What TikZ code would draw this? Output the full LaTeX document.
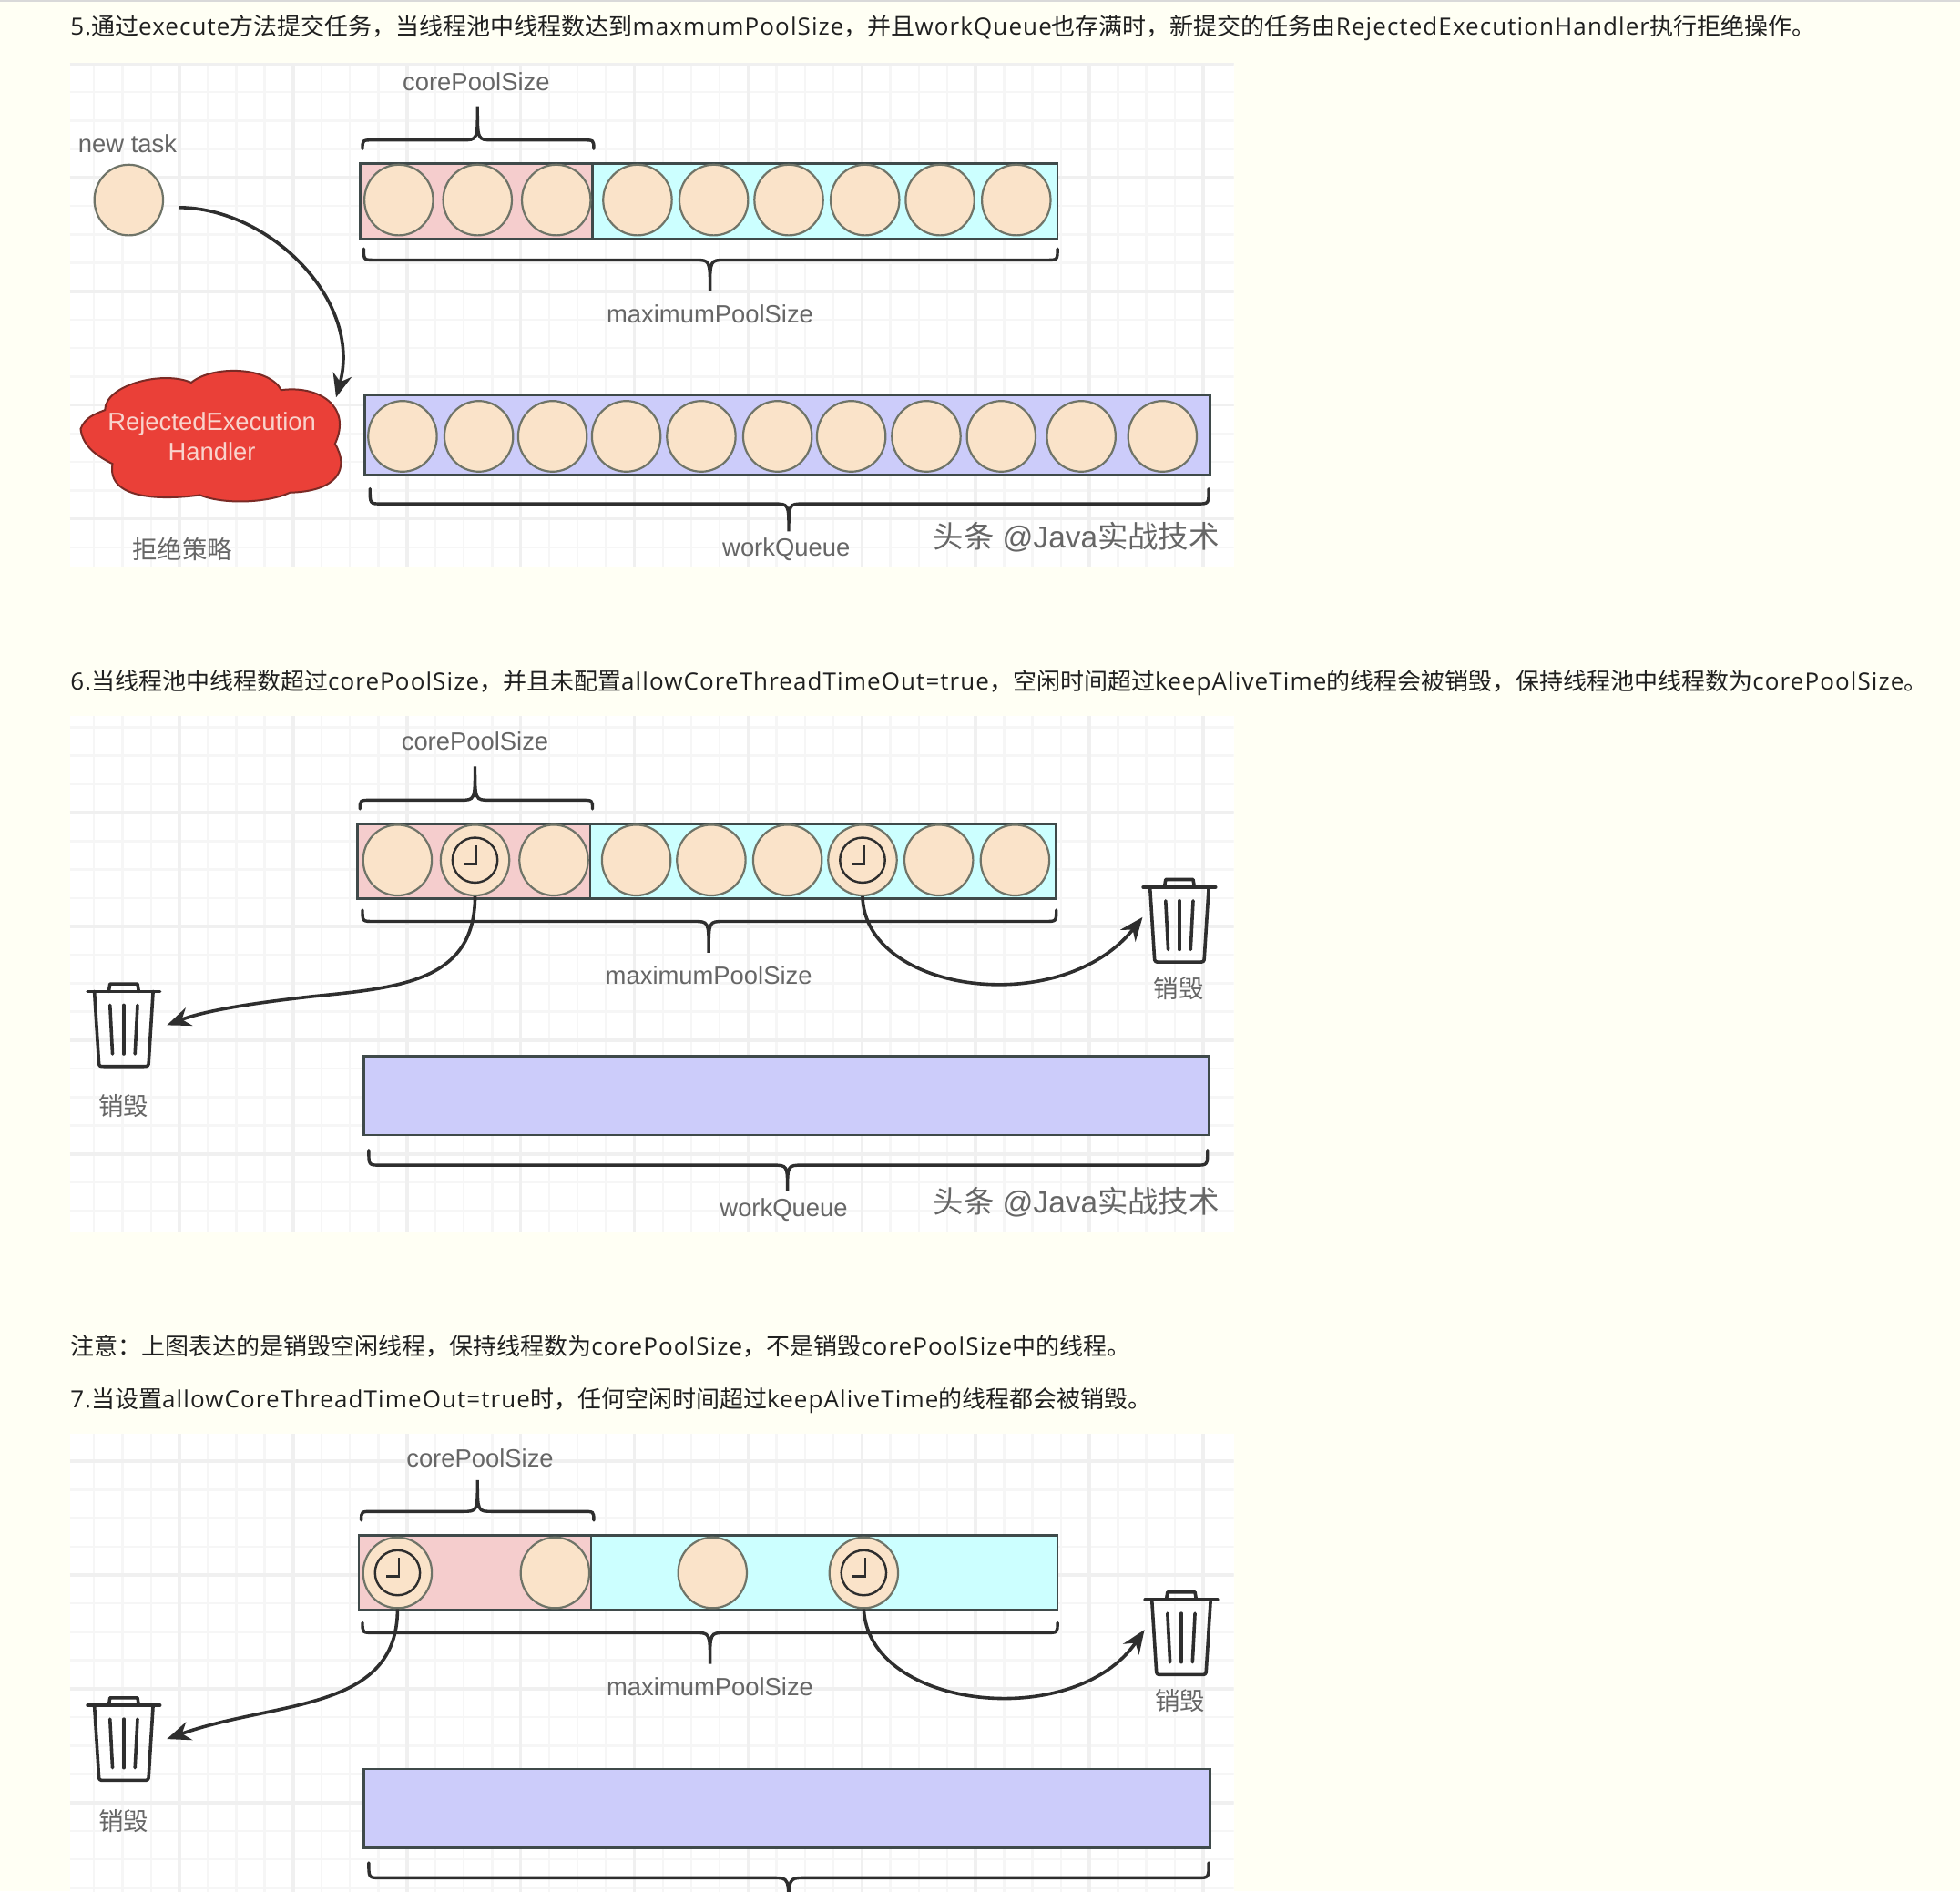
\documentclass[tikz,border=0pt]{standalone}
\usepackage{fontspec}
\setmainfont{Liberation Sans}
\newfontfamily\cjk{Noto Sans CJK SC}
\newfontfamily\headlat[LetterSpace=4.2]{Open Sans}
\usetikzlibrary{shapes.geometric,arrows.meta}
\newcommand\zh[1]{{\cjk #1}}
\definecolor{page}{HTML}{FFFFF4}
\definecolor{gridmin}{HTML}{F6F6F6}
\definecolor{gridmaj}{HTML}{F0F0F0}
\definecolor{corefill}{HTML}{F5CDCD}
\definecolor{maxfill}{HTML}{CCFFFF}
\definecolor{queuefill}{HTML}{CCCCFA}
\definecolor{peach}{HTML}{FAE3C9}
\definecolor{peachline}{HTML}{6F7468}
\definecolor{barline}{HTML}{3F4A4A}
\definecolor{labelgray}{HTML}{666666}
\definecolor{cloudred}{HTML}{EA4038}
\definecolor{cloudline}{HTML}{7A2A25}
\definecolor{cloudtext}{HTML}{F9D3CC}
\definecolor{dark}{HTML}{2E2E2E}
\tikzset{
  x=0.6862pt,y=-0.6862pt,
  headline/.style={anchor=west,inner sep=0pt,text=black!88,font=\fontsize{13}{15}\selectfont\headlat},
  lab/.style={inner sep=0pt,text=labelgray,font=\fontsize{13.7}{16.5}\selectfont},
  mark text/.style={inner sep=0pt,text=labelgray,font=\fontsize{16.7}{20}\selectfont},
  worker/.style={ellipse,draw=peachline,fill=peach,line width=1.1pt,minimum width=37.7pt,minimum height=38.8pt,inner sep=0pt},
  barbox/.style={draw=barline,line width=1.3pt},
  brace line/.style={draw=dark,line width=1.7pt,line cap=round},
  conn/.style={draw=dark,line width=1.8pt,-{Stealth[length=13pt,width=10.5pt]}},
  gridminor/.style={draw=gridmin,line width=1.2pt},
  gridmajor/.style={draw=gridmaj,line width=1.8pt},
  binline/.style={draw=dark,line width=1.8pt,line cap=round,line join=round},
  binbox/.style={minimum width=40pt,minimum height=46pt,inner sep=0pt},
}
% grid panel: top, bottom, first major y
\newcommand\panelgrid[3]{%
  \fill[white] (56,#1) rectangle (987,#2);
  \begin{scope}
    \clip (56,#1) rectangle (987,#2);
    \foreach \k in {0,...,40} {\draw[gridminor] ({52.5+22.75*\k},#1) -- ({52.5+22.75*\k},#2);}
    \foreach \k in {-20,...,20} {\draw[gridminor] (56,{#3+22.75*\k}) -- (987,{#3+22.75*\k});}
    \foreach \k in {0,...,10} {\draw[gridmajor] ({52.5+91*\k},#1) -- ({52.5+91*\k},#2);}
    \foreach \k in {-5,...,5} {\draw[gridmajor] (56,{#3+91*\k}) -- (987,{#3+91*\k});}
  \end{scope}}
% brace: x1,x2,line y,end y,tip x,tip y
\newcommand\bracepath[6]{%
  \draw[brace line] (#1,#4) .. controls (#1,#3) and (#1,#3) .. ({#1+9},#3)
    -- ({#5-12},#3) .. controls (#5,#3) and (#5,#3) .. (#5,#6)
    .. controls (#5,#3) and (#5,#3) .. ({#5+12},#3)
    -- ({#2-9},#3) .. controls (#2,#3) and (#2,#3) .. (#2,#4);}
% worker: name,x,y
\newcommand\wk[3]{\node[worker] (#1) at (#2,#3) {};}
% clock in a worker: name,x,y
\newcommand\clk[3]{\node[worker] (#1) at (#2,#3) {};
  \draw[draw=dark,line width=1.2pt] (#2,#3) circle (18);
  \draw[draw=dark,line width=1.2pt] ({#2+1},{#3-12}) -- ({#2+1},{#3+3}) -- ({#2-9},{#3+3});}
% bin: name,x,y
\newcommand\bin[3]{\node[binbox] (#1) at (#2,#3) {};
  \draw[binline] ({#2-29},{#3-27}) -- ({#2+29},{#3-27});
  \draw[binline] ({#2-12},{#3-27}) -- ({#2-11},{#3-33}) -- ({#2+11},{#3-33}) -- ({#2+12},{#3-27});
  \draw[binline] ({#2-23.5},{#3-27}) -- ({#2-20},{#3+29}) .. controls ({#2-20},{#3+33}) and ({#2-19},{#3+33}) .. ({#2-16},{#3+33}) -- ({#2+16},{#3+33}) .. controls ({#2+19},{#3+33}) and ({#2+20},{#3+33}) .. ({#2+20},{#3+29}) -- ({#2+23.5},{#3-27});
  \draw[binline] ({#2-11},{#3-16}) -- ({#2-9},{#3+23});
  \draw[binline] (#2,{#3-16}) -- (#2,{#3+23});
  \draw[binline] ({#2+11},{#3-16}) -- ({#2+9},{#3+23});}
\begin{document}
\begin{tikzpicture}
\useasboundingbox (0,0) rectangle (1568,1512.7);
\clip (0,0) rectangle (1568,1512.7);
\fill[page] (0,0) rectangle (1568,1512.7);
\fill[gray!30] (0,0) rectangle (1568,1.3);

% headings
\node[headline] (h1) at (56,22) {5.\zh{通过}execute\zh{方法提交任务，当线程池中线程数达到}maxmumPoolSize\zh{，并且}workQueue\zh{也存满时，新提交的任务由}RejectedExecutionHandler\zh{执行拒绝操作。}};
\node[headline] (h2) at (56,546) {6.\zh{当线程池中线程数超过}corePoolSize\zh{，并且未配置}allowCoreThreadTimeOut=true\zh{，空闲时间超过}keepAliveTime\zh{的线程会被销毁，保持线程池中线程数为}corePoolSize\zh{。}};
\node[headline] (h3) at (56,1077) {\zh{注意：上图表达的是销毁空闲线程，保持线程数为}corePoolSize\zh{，不是销毁}corePoolSize\zh{中的线程。}};
\node[headline] (h4) at (56,1120) {7.\zh{当设置}allowCoreThreadTimeOut=true\zh{时，任何空闲时间超过}keepAliveTime\zh{的线程都会被销毁。}};

% ---------- panel 1
\panelgrid{51}{453}{142}
\node[lab] (a_core) at (381,65) {corePoolSize};
\node[lab] (a_new) at (102,115) {new task};
\bracepath{290}{475}{112}{119}{382}{85}
\filldraw[barbox,fill=corefill] (288,131) rectangle (474,191);
\filldraw[barbox,fill=maxfill] (474,131) rectangle (846,191);
\wk{task}{103}{160}
\foreach \n/\x in {1/319,2/382,3/445,4/510,5/571,6/631,7/692,8/752,9/813} {\wk{am\n}{\x}{160}}
\bracepath{291}{846}{208}{199}{568}{233}
\node[lab] (a_max) at (568,251) {maximumPoolSize};
\filldraw[barbox,fill=queuefill] (292,316) rectangle (968,380);
\foreach \n/\x in {1/322,2/383,3/442,4/501,5/561,6/622,7/681,8/741,9/801,10/865,11/930} {\wk{aq\n}{\x}{349}}
\bracepath{296}{967}{403}{391}{631}{425}
\node[lab] (a_wq) at (629,439.5) {workQueue};
\node[lab] (a_rej) at (146,439) {\zh{拒绝策略}};
\node[mark text] (a_mark) at (861,429.5) {\zh{头条} @Java\zh{实战技术}};
\filldraw[draw=cloudline,fill=cloudred,line width=1pt]
  (64.5,343) .. controls (68,334) and (76,331) .. (84,328)
  .. controls (84,308) and (130,296) .. (153,306)
  .. controls (170,292) and (215,293) .. (225,312)
  .. controls (255,308) and (282,325) .. (268,355)
  .. controls (280,375) and (270,393) .. (232,394)
  .. controls (215,402) and (180,404) .. (160,396)
  .. controls (130,400) and (85,400) .. (90,371)
  .. controls (80,366) and (66,358) .. (64.5,343) -- cycle;
\node[lab,text=cloudtext,align=center,minimum width=140pt,minimum height=72pt] (cloud) at (169.5,349.5) {RejectedExecution\\Handler};
\coordinate (taskout) at (143,166);
\draw[conn] (taskout) .. controls (215,166) and (290,240) .. ([xshift=-2pt,yshift=-14.5pt]cloud.north east);

% ---------- panel 2
\panelgrid{573}{985}{650}
\node[lab] (b_core) at (380,593) {corePoolSize};
\bracepath{288}{474}{640}{647}{380}{613}
\filldraw[barbox,fill=corefill] (286,659) rectangle (472,719);
\filldraw[barbox,fill=maxfill] (472,659) rectangle (845,719);
\wk{bm1}{318}{688} \clk{bm2}{380}{688} \wk{bm3}{443}{688}
\wk{bm4}{509}{688} \wk{bm5}{569}{688} \wk{bm6}{630}{688}
\clk{bm7}{690}{688} \wk{bm8}{751}{688} \wk{bm9}{812}{688}
\bracepath{290}{845}{737}{728}{567}{762}
\node[lab] (b_max) at (567,780) {maximumPoolSize};
\filldraw[barbox,fill=queuefill] (291,845) rectangle (967,908);
\bracepath{295}{966}{932}{920}{630}{953}
\node[lab] (b_wq) at (627,968) {workQueue};
\node[mark text] (b_mark) at (861,961.5) {\zh{头条} @Java\zh{实战技术}};
\bin{binbr}{943.5}{736.5}
\node[lab] (b_rd) at (943,790.5) {\zh{销毁}};
\bin{binbl}{99}{820}
\node[lab] (b_ld) at (99,884.5) {\zh{销毁}};
\draw[conn] (bm2.south) .. controls (380,785) and (320,790) .. (250,797) .. controls (205,802) and (165,808) .. ([xshift=3.5pt]binbl.east);
\draw[conn] (bm7.south) .. controls (692,795) and (850,815) .. ([yshift=2pt]binbr.west);

% ---------- panel 3
\panelgrid{1147}{1513}{1168.8}
\node[lab] (c_core) at (384,1166) {corePoolSize};
\bracepath{289}{475}{1209}{1216}{382}{1184}
\filldraw[barbox,fill=corefill] (287,1228) rectangle (473,1288);
\filldraw[barbox,fill=maxfill] (473,1228) rectangle (846,1288);
\clk{cm1}{318}{1258} \wk{cm2}{444}{1258} \wk{cm3}{570}{1258} \clk{cm4}{691}{1258}
\bracepath{290}{846}{1306}{1298}{568}{1331}
\node[lab] (c_max) at (568,1349) {maximumPoolSize};
\filldraw[barbox,fill=queuefill] (291,1415) rectangle (968,1478);
\bracepath{295}{967}{1502}{1490}{631}{1530}
\bin{bincr}{945}{1306.5}
\node[lab] (c_rd) at (944,1360.5) {\zh{销毁}};
\bin{bincl}{99}{1391}
\node[lab] (c_ld) at (99,1456.5) {\zh{销毁}};
\draw[conn] (cm1.south) .. controls (318,1370) and (220,1360) .. ([xshift=3.5pt]bincl.east);
\draw[conn] (cm4.south) .. controls (695,1368) and (860,1385) .. ([yshift=2pt]bincr.west);
\end{tikzpicture}
\end{document}
